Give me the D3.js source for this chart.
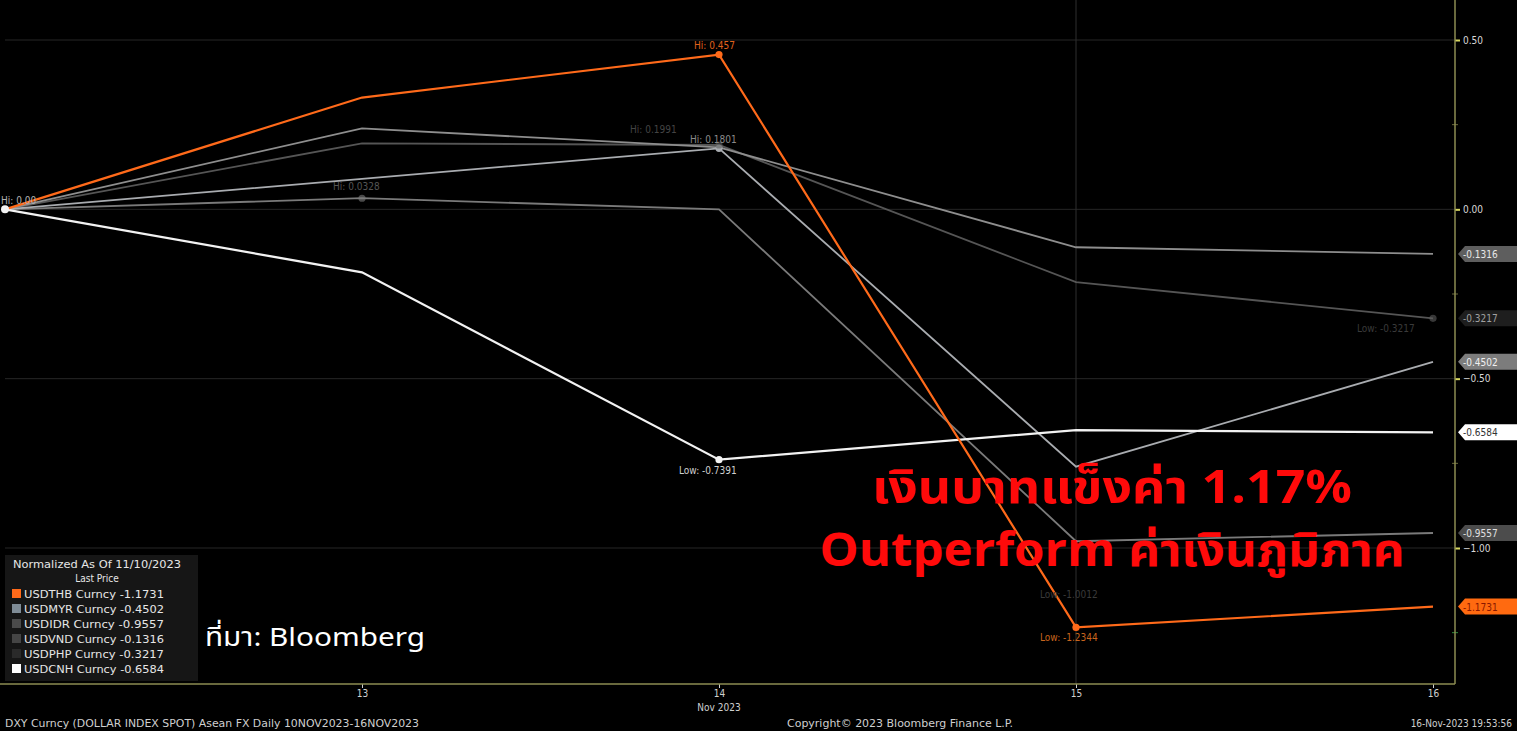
<!DOCTYPE html>
<html>
<head>
<meta charset="utf-8">
<script src="https://cdn.jsdelivr.net/npm/d3@7"></script>
<style>
  html, body { margin: 0; padding: 0; background: #000; }
  svg { display: block; }
  .small { font-family: "Liberation Sans Narrow", "DejaVu Sans Condensed", "Liberation Sans", sans-serif; font-size: 10px; }
</style>
</head>
<body>
<div id="chart"></div>
<script>
/* Bloomberg: Asean FX normalised to 10 Nov 2023 */
const dates = ['10', '13', '14', '15', '16'];
const seriesNames = ['USDTHB', 'USDMYR', 'USDIDR', 'USDVND', 'USDPHP', 'USDCNH'];
const seriesColors = ['#ff6a1a', '#a9acb0', '#7a7a7a', '#8e8e8e', '#5e5e5e', '#f2f2f2'];
const legendColors = ['#ff6a1a', '#7f8c96', '#4a4a4a', '#454545', '#2a2a2a', '#ffffff'];
const thbValues = [0, 0.330, 0.457, -1.2344, -1.1731];
const myrValues = [0, 0.090, 0.1801, -0.760, -0.4502];
const idrValues = [0, 0.0328, 0.000, -0.980, -0.9557];
const vndValues = [0, 0.239, 0.183, -0.112, -0.1316];
const phpValues = [0, 0.195, 0.190, -0.215, -0.3217];
const cnhValues = [0, -0.186, -0.7391, -0.652, -0.6584];
const lastPrices = ['-1.1731', '-0.4502', '-0.9557', '-0.1316', '-0.3217', '-0.6584'];
const yTicks = [0.5, 0, -0.5, -1];
const yMinorTicks = [0.25, -0.25, -0.75, -1.25];
const xTickLabels = ['13', '14', '15', '16'];

const W = 1517, H = 731;
const svg = d3.select('#chart').append('svg').attr('width', W).attr('height', H);
svg.append('rect').attr('width', W).attr('height', H).attr('fill', '#000');

const x = d3.scalePoint().domain(dates).range([5, 1433]);
const y = d3.scaleLinear().domain([-1, 0.5]).range([548, 40]);
const axisCol = '#8c8c52';
const plotR = 1455, plotB = 684;

/* grid */
svg.append('g').selectAll('line').data(yTicks).join('line')
  .attr('x1', 5).attr('x2', plotR).attr('y1', d => y(d)).attr('y2', d => y(d))
  .attr('stroke', '#262626').attr('stroke-width', 1);
svg.append('line').attr('x1', x('15')).attr('x2', x('15')).attr('y1', 0).attr('y2', plotB)
  .attr('stroke', '#2e2e2e').attr('stroke-width', 1);

/* right axis */
const yAxis = svg.append('g').attr('transform', `translate(${plotR},0)`)
  .call(d3.axisRight(y).tickValues(yTicks).tickFormat(d3.format('.2f')).tickSize(5).tickPadding(3));
yAxis.select('.domain').remove();
yAxis.selectAll('line').attr('stroke', '#d8d860').attr('stroke-width', 2);
yAxis.selectAll('text').attr('class', 'small').attr('fill', '#d8d8d8').attr('font-size', 11);
svg.append('g').selectAll('line').data(yMinorTicks).join('line')
  .attr('x1', plotR - 3).attr('x2', plotR + 3).attr('y1', d => y(d)).attr('y2', d => y(d))
  .attr('stroke', (d, i) => i === 3 ? '#2d8a3a' : '#6a6a3c');
svg.append('line').attr('x1', plotR).attr('x2', plotR).attr('y1', 0).attr('y2', plotB)
  .attr('stroke', axisCol).attr('stroke-width', 1.5);

/* bottom axis */
const xAxis = svg.append('g').attr('transform', `translate(0,${plotB})`)
  .call(d3.axisBottom(x).tickValues(xTickLabels).tickSize(4).tickPadding(2));
xAxis.select('.domain').remove();
xAxis.selectAll('line').attr('stroke', '#cfcfcf');
xAxis.selectAll('text').attr('class', 'small').attr('fill', '#d0d0d0').attr('font-size', 11);
svg.append('line').attr('x1', 0).attr('x2', plotR).attr('y1', plotB).attr('y2', plotB)
  .attr('stroke', axisCol).attr('stroke-width', 1.5);
svg.append('text').attr('class', 'small').attr('x', x('14')).attr('y', 711)
  .attr('text-anchor', 'middle').attr('fill', '#d0d0d0').attr('font-size', 11).text('Nov 2023');

/* lines */
const allValues = [thbValues, myrValues, idrValues, vndValues, phpValues, cnhValues];
const line = d3.line().x((d, i) => x(dates[i])).y(d => y(d));
const drawOrder = [4, 2, 3, 1, 5, 0];
svg.append('g').selectAll('path').data(drawOrder).join('path')
  .attr('d', i => line(allValues[i]))
  .attr('fill', 'none')
  .attr('stroke', i => seriesColors[i])
  .attr('stroke-width', i => i === 0 || i === 5 ? 2.2 : 1.8)
  .attr('stroke-opacity', i => i === 4 ? 0.9 : 1);

/* hi / low markers */
const markers = [
  { s: 0, i: 2, text: 'Hi: 0.457', dx: -25, dy: -6, col: '#e0621c' },
  { s: 0, i: 3, text: 'Low: -1.2344', dx: -36, dy: 14, col: '#c8651e' },
  { s: 5, i: 2, text: 'Low: -0.7391', dx: -40, dy: 14, col: '#cfcfcf' },
  { s: 1, i: 2, text: 'Hi: 0.1801', dx: -29, dy: -5, col: '#8a8a8a' },
  { s: 4, i: 2, text: 'Hi: 0.1991', dx: -89, dy: -12, col: '#444' },
  { s: 2, i: 1, text: 'Hi: 0.0328', dx: -29, dy: -8, col: '#555' },
  { s: 4, i: 4, text: 'Low: -0.3217', dx: -76, dy: 14, col: '#3a3a3a' },
  { s: 2, i: 3, text: 'Low: -1.0012', dx: -36, dy: 57, col: '#3a3a3a' },
  { s: 5, i: 0, text: 'Hi: 0.00', dx: -4, dy: -5, col: '#b0b0b0' }
];
svg.append('g').selectAll('circle').data(markers).join('circle')
  .attr('cx', d => x(dates[d.i])).attr('cy', d => y(allValues[d.s][d.i]))
  .attr('r', d => d.i === 0 ? 4 : 3.6)
  .attr('fill', d => d.s === 2 && d.i === 3 ? 'none' : seriesColors[d.s])
  .attr('opacity', d => (d.s === 4 || d.s === 2) ? 0.6 : 1);
svg.append('g').selectAll('text').data(markers).join('text')
  .attr('class', 'small')
  .attr('x', d => x(dates[d.i]) + d.dx).attr('y', d => y(allValues[d.s][d.i]) + d.dy)
  .attr('fill', d => d.col)
  .text(d => d.text);

/* last price tags on the right */
const tagBg = ['#ff6a10', '#7c7c7c', '#4c4c4c', '#5e5e5e', '#1e1e1e', '#ffffff'];
const tagFg = ['#8a1800', '#f0f0f0', '#e0e0e0', '#e8e8e8', '#a0a0a0', '#333'];
const tags = svg.append('g').selectAll('g').data(d3.range(6)).join('g')
  .attr('transform', i => `translate(1458,${y(+lastPrices[i])})`);
tags.append('path')
  .attr('d', 'M0,0 L7,-8 L59,-8 L59,8 L7,8 Z')
  .attr('fill', i => tagBg[i]);
tags.append('text').attr('class', 'small').attr('x', 5).attr('y', 4).attr('font-size', 11)
  .attr('fill', i => tagFg[i]).text(i => lastPrices[i]);

/* legend */
const lg = svg.append('g').attr('transform', 'translate(5,555)');
lg.append('rect').attr('width', 193).attr('height', 126).attr('fill', '#161616');
lg.append('text').attr('class', 'small').attr('x', 8).attr('y', 13)
  .attr('font-size', 11.5).attr('textLength', 168).attr('lengthAdjust', 'spacingAndGlyphs')
  .attr('fill', '#e6e6e6').text('Normalized As Of 11/10/2023');
lg.append('text').attr('class', 'small').attr('x', 92).attr('y', 27).attr('text-anchor', 'middle')
  .attr('font-size', 11.5).attr('fill', '#e6e6e6').text('Last Price');
const rows = lg.selectAll('g.row').data(d3.range(6)).join('g').attr('class', 'row')
  .attr('transform', i => `translate(0,${34 + i * 15})`);
rows.append('rect').attr('x', 7).attr('y', 0).attr('width', 9).attr('height', 9)
  .attr('fill', i => legendColors[i]);
rows.append('text').attr('class', 'small').attr('x', 19).attr('y', 9).attr('fill', '#e6e6e6')
  .attr('font-size', 11.5).attr('textLength', 140).attr('lengthAdjust', 'spacingAndGlyphs')
  .text(i => `${seriesNames[i]} Curncy  ${lastPrices[i]}`);

/* source + annotation */
svg.append('text').attr('x', 205).attr('y', 646)
  .attr('font-family', '"Noto Sans Thai", "Noto Sans", sans-serif').attr('font-size', 26)
  .attr('textLength', 220).attr('lengthAdjust', 'spacingAndGlyphs')
  .attr('fill', '#fff').text('ที่มา: Bloomberg');
const note = svg.append('text').attr('text-anchor', 'middle')
  .attr('font-family', '"Noto Sans Thai", "Noto Sans", sans-serif')
  .attr('font-weight', 'bold').attr('font-size', 46).attr('fill', '#ff0a0a')
  .attr('lengthAdjust', 'spacingAndGlyphs');
note.append('tspan').attr('x', 1112).attr('y', 503)
  .attr('textLength', 480).attr('lengthAdjust', 'spacingAndGlyphs').text('เงินบาทแข็งค่า 1.17%');
note.append('tspan').attr('x', 1112).attr('y', 566)
  .attr('textLength', 585).attr('lengthAdjust', 'spacingAndGlyphs').text('Outperform ค่าเงินภูมิภาค');

/* footer */
const foot = svg.append('g').attr('class', 'small').attr('fill', '#cfcfcf').attr('font-size', 11);
foot.append('text').attr('x', 5).attr('y', 727)
  .attr('textLength', 414).attr('lengthAdjust', 'spacingAndGlyphs')
  .text('DXY Curncy (DOLLAR INDEX SPOT) Asean FX  Daily 10NOV2023-16NOV2023');
foot.append('text').attr('x', 787).attr('y', 727)
  .attr('textLength', 226).attr('lengthAdjust', 'spacingAndGlyphs')
  .text('Copyright© 2023 Bloomberg Finance L.P.');
foot.append('text').attr('x', 1512).attr('y', 727).attr('text-anchor', 'end').text('16-Nov-2023 19:53:56');
</script>
</body>
</html>
